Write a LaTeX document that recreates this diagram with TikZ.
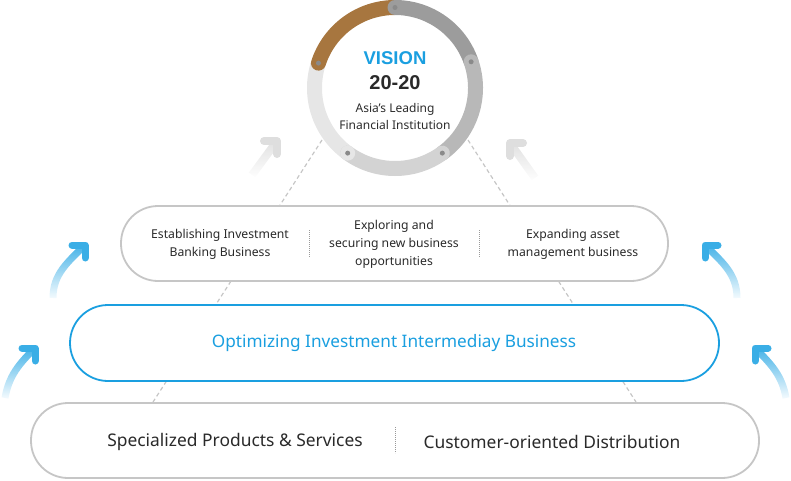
\documentclass[tikz,border=0pt]{standalone}
\usepackage{fontspec}
\setmainfont{Noto Sans}
\newfontfamily\boldsans{Liberation Sans}
\usetikzlibrary{fadings}
\definecolor{vblue}{HTML}{1A9FE0}
\definecolor{ablue}{HTML}{3AAEE6}
\definecolor{boxgray}{HTML}{C6C6C6}
\definecolor{txt}{HTML}{2A2A2A}
\definecolor{brownseg}{HTML}{A7763F}
\definecolor{seg1}{HTML}{9C9C9C}
\definecolor{seg2}{HTML}{B8B8B8}
\definecolor{seg3}{HTML}{D3D3D3}
\definecolor{seg4}{HTML}{E6E6E6}
\definecolor{dotc}{HTML}{8A8A8A}
\tikzfading[name=fadeup, bottom color=transparent!100, top color=transparent!0]
\tikzset{
  pill/.style={draw=boxgray, line width=1.8pt, fill=white, inner sep=0pt},
  bluepill/.style={draw=vblue, line width=1.8pt, fill=white, inner sep=0pt},
  ringseg/.style={line width=15pt},
  ringdot/.style={fill=dotc, draw=none, circle, inner sep=0pt, minimum size=5pt},
  dashline/.style={draw=boxgray, line width=1.2pt, dash pattern=on 4pt off 3pt},
  sepline/.style={draw=gray!80, line width=0.7pt, dash pattern=on 0.7pt off 1.3pt},
  shaftblue/.style={draw=ablue, line width=7pt, path fading=fadeup},
  headblue/.style={draw=ablue, line width=7pt, line cap=round, line join=round},
  shaftgray/.style={draw=black!13, line width=8pt, path fading=fadeup},
  headgray/.style={draw=black!13, line width=8pt, line cap=round, line join=round},
  boxtext/.style={text=txt, align=center, font=\fontsize{12.2}{18}\selectfont, inner sep=0pt},
  bigtext/.style={text=txt, font=\fontsize{17.4}{20}\selectfont, inner sep=0pt},
}
\begin{document}
\begin{tikzpicture}[x=1pt,y=1pt]
\useasboundingbox (0,0) rectangle (791,480);
% dashed guide lines (behind)
\coordinate (dl1) at (322,340);
\coordinate (dl2) at (153,78);
\coordinate (dr1) at (468,340);
\coordinate (dr2) at (636,78);
\draw[dashline] (dl1) -- (dl2);
\draw[dashline] (dr1) -- (dr2);
% ring
\coordinate (C) at (395,392);
\draw[ringseg, seg4] ([shift={(234:80.5)}]C) arc[start angle=234, end angle=162, radius=80.5];
\draw[ringseg, brownseg, line cap=round] ([shift={(162:80.5)}]C) arc[start angle=162, end angle=90, radius=80.5];
\draw[ringseg, seg1, line cap=round] ([shift={(90:80.5)}]C) arc[start angle=90, end angle=19, radius=80.5];
\draw[ringseg, seg2, line cap=round] ([shift={(19:80.5)}]C) arc[start angle=19, end angle=-54, radius=80.5];
\draw[ringseg, seg3, line cap=round] ([shift={(-54:80.5)}]C) arc[start angle=-54, end angle=-126, radius=80.5];
\fill[seg4] ([shift={(234:80.5)}]C) circle[radius=7.5];
\node[ringdot] (d1) at ([shift={(162:80.5)}]C) {};
\node[ringdot] (d2) at ([shift={(90:80.5)}]C) {};
\node[ringdot] (d3) at ([shift={(19:80.5)}]C) {};
\node[ringdot] (d4) at ([shift={(-54:80.5)}]C) {};
\node[ringdot] (d5) at ([shift={(-126:80.5)}]C) {};
% vision texts
\node[text=vblue, font=\boldsans\bfseries\fontsize{18.5}{20}\selectfont, inner sep=0pt] (vis) at (395,422) {VISION};
\node[text=txt, font=\boldsans\bfseries\fontsize{20}{20}\selectfont, inner sep=0pt] (yr) at (395,397) {20-20};
\node[text=txt, font=\fontsize{12}{14}\selectfont, inner sep=0pt] (asia) at (395,371) {Asia’s Leading};
\node[text=txt, font=\fontsize{12}{14}\selectfont, inner sep=0pt] (fin) at (395,355) {Financial Institution};
% gray arrows
\coordinate (gl0) at (252,305);
\coordinate (gl1) at (277,339);
\draw[shaftgray] (gl0) -- (gl1);
\draw[headgray] (gl1) ++(-13,0) -- (gl1) -- ++(0,-13);
\coordinate (gr0) at (535,302);
\coordinate (gr1) at (510,337);
\draw[shaftgray] (gr0) -- (gr1);
\draw[headgray] (gr1) ++(13,0) -- (gr1) -- ++(0,-13);
% boxes
\node[pill, rounded corners=37pt, minimum width=547pt, minimum height=75pt] (top) at (394.5,236.5) {};
\node[bluepill, rounded corners=38pt, minimum width=649pt, minimum height=76pt] (mid) at (394.5,137) {};
\node[pill, rounded corners=37pt, minimum width=728pt, minimum height=75pt] (bot) at (395,39.5) {};
% top box texts
\node[boxtext] (t1) at (220,235.5) {Establishing Investment\\Banking Business};
\node[boxtext] (t2) at (394,235.5) {Exploring and\\securing new business\\opportunities};
\node[boxtext] (t3) at (573,235.5) {Expanding asset\\management business};
\coordinate (s1a) at (309,250); \coordinate (s1b) at (309,223);
\coordinate (s2a) at (479,250); \coordinate (s2b) at (479,223);
\draw[sepline] (s1a) -- (s1b);
\draw[sepline] (s2a) -- (s2b);
% middle
\node[bigtext, text=vblue, font=\fontsize{17.2}{20}\selectfont] (m1) at (394,136.5) {Optimizing Investment Intermediay Business};
% bottom
\node[bigtext] (b1) at (235,38.5) {Specialized Products \& Services};
\node[bigtext] (b2) at (552,38.5) {Customer-oriented Distribution};
\coordinate (s3a) at (395,53); \coordinate (s3b) at (395,27);
\draw[sepline] (s3a) -- (s3b);
% blue arrows
\coordinate (al0) at (53,182); \coordinate (al1) at (85,235);
\draw[shaftblue] (al0) to[out=90,in=225] (al1);
\draw[headblue] (al1) ++(-13,0) -- (al1) -- ++(0,-13);
\coordinate (bl0) at (5,82); \coordinate (bl1) at (35,132);
\draw[shaftblue] (bl0) to[out=80,in=225] (bl1);
\draw[headblue] (bl1) ++(-13,0) -- (bl1) -- ++(0,-13);
\coordinate (ar0) at (737,182); \coordinate (ar1) at (705,235);
\draw[shaftblue] (ar0) to[out=90,in=-45] (ar1);
\draw[headblue] (ar1) ++(13,0) -- (ar1) -- ++(0,-13);
\coordinate (br0) at (786,82); \coordinate (br1) at (755,132);
\draw[shaftblue] (br0) to[out=100,in=-45] (br1);
\draw[headblue] (br1) ++(13,0) -- (br1) -- ++(0,-13);
\end{tikzpicture}
\end{document}
